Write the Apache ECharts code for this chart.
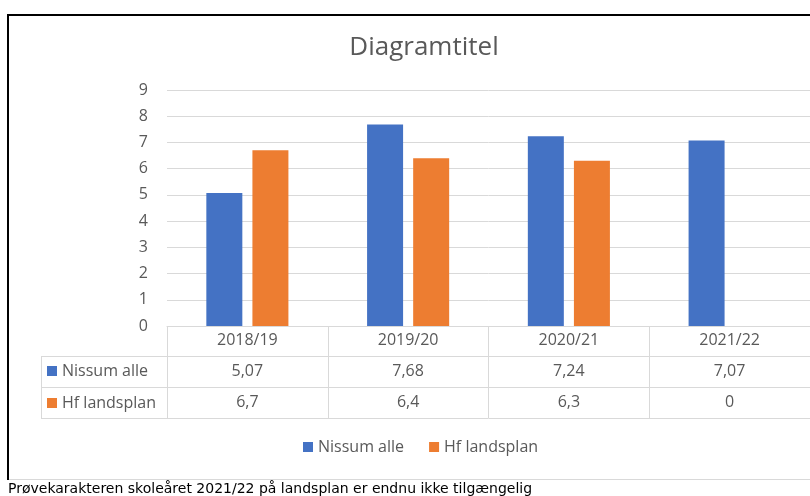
<!DOCTYPE html>
<html>
<head>
<meta charset="utf-8">
<script src="https://cdn.jsdelivr.net/npm/echarts@6/dist/echarts.min.js"></script>
<style>html,body{margin:0;padding:0;background:#fff;}#c{width:810px;height:496px;}</style>
</head>
<body>
<div id="c"></div>
<script>
const categories = ['2018/19', '2019/20', '2020/21', '2021/22'];
const nissumAlle = [5.07, 7.68, 7.24, 7.07];
const hfLandsplan = [6.7, 6.4, 6.3, 0];
const yTicks = [0, 1, 2, 3, 4, 5, 6, 7, 8, 9];
const seriesNames = ['Nissum alle', 'Hf landsplan'];
const titleText = 'Diagramtitel';
const footnote = 'Prøvekarakteren skoleåret 2021/22 på landsplan er endnu ikke tilgængelig';

const FONT = 'Open Sans';
const GRAY = '#595959';
const LINE = '#d9d9d9';
const fmt = v => String(v).replace('.', ',');

const chart = echarts.init(document.getElementById('c'), null, {renderer: 'canvas'});

const legendText = {color: GRAY, fontFamily: FONT, fontSize: 16, lineHeight: 16};

chart.setOption({
  backgroundColor: '#fff',
  animation: false,
  title: {
    text: titleText, left: 419, top: 30, textAlign: 'center',
    textStyle: {color: GRAY, fontFamily: FONT, fontSize: 26, fontWeight: 'normal'}
  },
  legend: [
    {data: seriesNames, left: 303, top: 439, padding: 0, icon: 'rect', itemWidth: 10, itemHeight: 10,
     itemGap: 25, selectedMode: false, textStyle: legendText},
    {data: [seriesNames[0]], left: 47, top: 363, padding: 0, icon: 'rect', itemWidth: 10, itemHeight: 10,
     selectedMode: false, textStyle: legendText},
    {data: [seriesNames[1]], left: 47, top: 395, padding: 0, icon: 'rect', itemWidth: 10, itemHeight: 10,
     selectedMode: false, textStyle: legendText}
  ],
  grid: {left: 167, right: 0, top: 90, bottom: 170, containLabel: false},
  xAxis: [
    {type: 'category', data: categories, position: 'bottom',
     axisLine: {lineStyle: {color: LINE}},
     axisTick: {show: true, length: 92, interval: 0, lineStyle: {color: LINE}},
     axisLabel: {color: GRAY, fontFamily: FONT, fontSize: 16, margin: 6, interval: 0}},
    {type: 'category', data: nissumAlle.map(fmt), position: 'bottom', offset: 30,
     axisLine: {lineStyle: {color: LINE}}, axisTick: {show: false},
     axisLabel: {color: GRAY, fontFamily: FONT, fontSize: 16, margin: 7, interval: 0}},
    {type: 'category', data: hfLandsplan.map(fmt), position: 'bottom', offset: 61,
     axisLine: {lineStyle: {color: LINE}}, axisTick: {show: false},
     axisLabel: {color: GRAY, fontFamily: FONT, fontSize: 16, margin: 7, interval: 0}},
    {type: 'category', data: categories, position: 'bottom', offset: 92,
     axisLine: {lineStyle: {color: LINE}}, axisTick: {show: false},
     axisLabel: {show: false}}
  ],
  yAxis: {
    type: 'value', min: yTicks[0], max: yTicks[yTicks.length - 1], interval: 1,
    axisLine: {show: false}, axisTick: {show: false},
    splitLine: {lineStyle: {color: LINE}},
    axisLabel: {color: GRAY, fontFamily: FONT, fontSize: 16, margin: 19}
  },
  series: [
    {name: seriesNames[0], type: 'bar', data: nissumAlle, xAxisIndex: 0,
     barWidth: 36, barGap: '28%', itemStyle: {color: '#4472C4'}},
    {name: seriesNames[1], type: 'bar', data: hfLandsplan, xAxisIndex: 0,
     barWidth: 36, barGap: '28%', itemStyle: {color: '#ED7D31'}}
  ],
  graphic: [
    {type: 'line', shape: {x1: 41, y1: 356.5, x2: 167, y2: 356.5}, style: {stroke: LINE, lineWidth: 1}},
    {type: 'line', shape: {x1: 41, y1: 387.5, x2: 167, y2: 387.5}, style: {stroke: LINE, lineWidth: 1}},
    {type: 'line', shape: {x1: 41, y1: 418.5, x2: 167, y2: 418.5}, style: {stroke: LINE, lineWidth: 1}},
    {type: 'line', shape: {x1: 41.5, y1: 356, x2: 41.5, y2: 419}, style: {stroke: LINE, lineWidth: 1}},
    {type: 'line', shape: {x1: 8, y1: 479.5, x2: 810, y2: 479.5}, style: {stroke: LINE, lineWidth: 1}},
    {type: 'line', shape: {x1: 8, y1: 15, x2: 8, y2: 480}, style: {stroke: '#000', lineWidth: 2}},
    {type: 'line', shape: {x1: 7, y1: 15, x2: 810, y2: 15}, style: {stroke: '#000', lineWidth: 2}},
    {type: 'text', left: 8, top: 482,
     style: {text: footnote, fill: '#000', font: '14px "DejaVu Sans"'}}
  ]
});
</script>
</body>
</html>
